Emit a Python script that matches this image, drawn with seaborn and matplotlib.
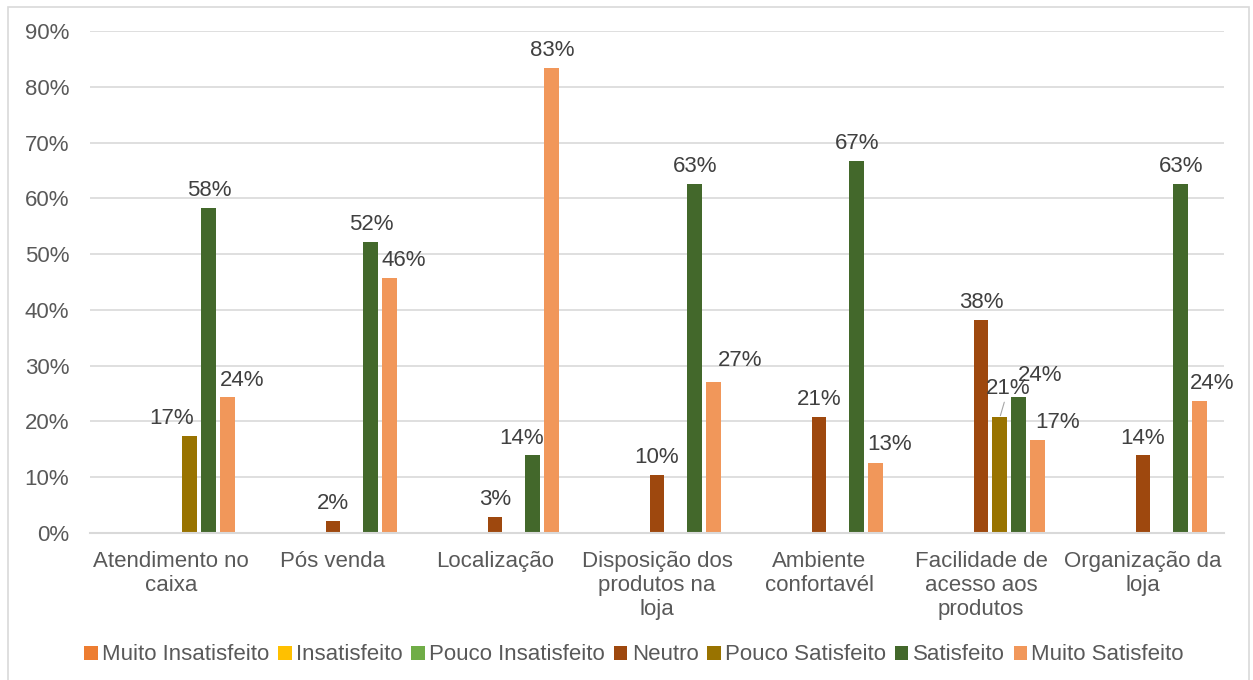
import matplotlib
matplotlib.use("Agg")
import matplotlib.pyplot as plt
from matplotlib.patches import Patch, Rectangle
from matplotlib.ticker import PercentFormatter
import numpy as np
import pandas as pd
import seaborn as sns

# Survey results (% of respondents) per aspect and satisfaction level
categories = [
    "Atendimento no\ncaixa",
    "Pós venda",
    "Localização",
    "Disposição dos\nprodutos na\nloja",
    "Ambiente\nconfortavél",
    "Facilidade de\nacesso aos\nprodutos",
    "Organização da\nloja",
]
levels = [
    "Muito Insatisfeito",
    "Insatisfeito",
    "Pouco Insatisfeito",
    "Neutro",
    "Pouco Satisfeito",
    "Satisfeito",
    "Muito Satisfeito",
]
muito_insatisfeito = [0, 0, 0, 0, 0, 0, 0]
insatisfeito = [0, 0, 0, 0, 0, 0, 0]
pouco_insatisfeito = [0, 0, 0, 0, 0, 0, 0]
neutro = [0, 2.1, 2.8, 10.4, 20.8, 38.2, 13.9]
pouco_satisfeito = [17.4, 0, 0, 0, 0, 20.8, 0]
satisfeito = [58.3, 52.1, 13.9, 62.5, 66.7, 24.3, 62.5]
muito_satisfeito = [24.3, 45.8, 83.3, 27.1, 12.5, 16.7, 23.6]

series = [muito_insatisfeito, insatisfeito, pouco_insatisfeito, neutro,
          pouco_satisfeito, satisfeito, muito_satisfeito]
colors = ["#ED7D31", "#FFC000", "#70AD47", "#9E480E", "#997300", "#43682B", "#F1975A"]

df = pd.DataFrame(
    [(c, lv, v) for lv, vals in zip(levels, series) for c, v in zip(categories, vals)],
    columns=["Aspecto", "Nível", "Percentual"],
)

sns.set_theme(style="white")
plt.rcParams["font.family"] = ["Liberation Sans", "DejaVu Sans"]

FS = 16

fig = plt.figure(figsize=(12.53, 6.8), dpi=100)
ax = fig.add_axes([90 / 1253, 1 - 533 / 680, (1224 - 90) / 1253, (533 - 31) / 680])

sns.barplot(
    data=df, x="Aspecto", y="Percentual", hue="Nível",
    hue_order=levels, order=categories, palette=colors, saturation=1,
    width=0.82, gap=0.21, linewidth=0, legend=False, ax=ax,
)

ax.set_ylim(0, 90)
ax.set_yticks(np.arange(0, 91, 10))
ax.yaxis.set_major_formatter(PercentFormatter(decimals=0))
ax.set_xlabel("")
ax.set_ylabel("")
ax.grid(axis="y", color="#D9D9D9", linewidth=1.2)
ax.set_axisbelow(True)
for side in ["left", "right", "top"]:
    ax.spines[side].set_visible(False)
ax.spines["bottom"].set_color("#D9D9D9")
ax.spines["bottom"].set_linewidth(1.5)
ax.tick_params(axis="y", length=0, pad=15, labelsize=FS, labelcolor="#595959")
ax.tick_params(axis="x", length=0, pad=13, labelsize=FS, labelcolor="#595959")
for t in ax.get_xticklabels():
    t.set_linespacing(1.2)


def pct(v):
    # round half up, as the spreadsheet does
    return f"{int(np.floor(v + 0.5))}%"


# Data labels, nudged sideways where neighbouring labels would collide
nudge = {
    (0, 4): (-13, 0), (0, 6): (10, 0),
    (1, 6): (10, 0),
    (2, 5): (-8, 0),
    (3, 6): (19, 3),
    (4, 6): (10, 1),
    (5, 5): (15, 3), (5, 6): (14, 0),
    (6, 6): (9, 0),
}
for si, cont in enumerate(ax.containers):
    for ci, bar in enumerate(cont):
        v = series[si][ci]
        if v <= 0:
            continue
        xc = bar.get_x() + bar.get_width() / 2
        label = pct(v)
        if (ci, si) == (5, 4):
            ax.annotate(label, xy=(xc, v), xytext=(6, 13), textcoords="offset points",
                        ha="center", va="bottom", fontsize=FS, color="#404040",
                        arrowprops=dict(arrowstyle="-", color="#A6A6A6", lw=0.8,
                                        shrinkA=0, shrinkB=1))
            continue
        dx, dy = nudge.get((ci, si), (0, 0))
        ax.annotate(label, xy=(xc, v), xytext=(dx, 5 + dy), textcoords="offset points",
                    ha="center", va="bottom", fontsize=FS, color="#404040")

handles = [Patch(facecolor=c, edgecolor="none") for c in colors]
fig.legend(handles, levels, loc="center", bbox_to_anchor=(0.506, 1 - 655 / 680),
           ncol=7, frameon=False, fontsize=FS, handlelength=0.6, handleheight=0.6,
           handletextpad=0.2, columnspacing=0.4, labelcolor="#595959")

# Chart area frame
fig.add_artist(Rectangle((8 / 1253, -0.01), (1249 - 8) / 1253, 1 - 7 / 680 + 0.01,
                         transform=fig.transFigure, fill=False,
                         edgecolor="#D9D9D9", linewidth=1.2))

fig.savefig("out.png", dpi=100, facecolor="white")
